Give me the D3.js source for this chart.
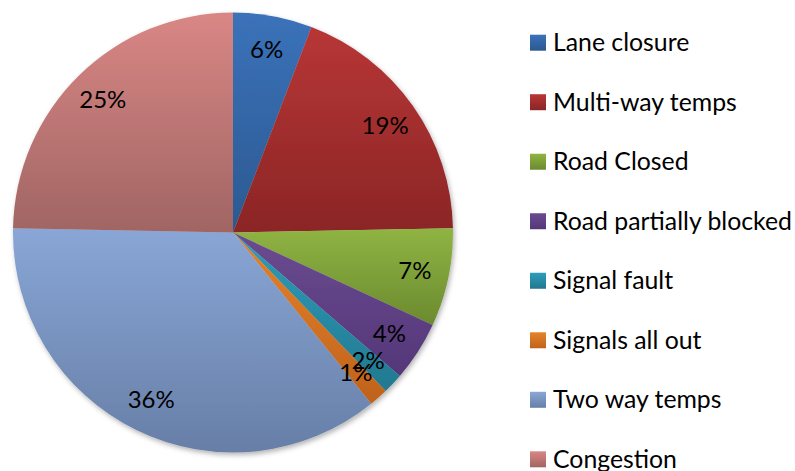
<!DOCTYPE html>
<html>
<head>
<meta charset="utf-8">
<script src="https://cdn.jsdelivr.net/npm/d3@7"></script>
<style>
html,body{margin:0;padding:0;background:#fff;}
svg{display:block;}
text{font-family:Lato,"Open Sans",sans-serif;fill:#000;}
</style>
</head>
<body>
<svg id="chart" width="795" height="471"></svg>
<script>
const categories = ["Lane closure","Multi-way temps","Road Closed","Road partially blocked","Signal fault","Signals all out","Two way temps","Congestion"];
const values = [5.8, 18.9, 7.2, 4.4, 1.5, 1.4, 36.1, 24.7];
const topColors = ["#3b72ba","#b83636","#8fb443","#6b4b90","#2f9dba","#e6832b","#89a6d6","#d98785"];
const bottomColors = ["#2b5990","#8b2525","#6b8a2f","#543779","#22788f","#bf621b","#677fa7","#a06563"];

const svg = d3.select("#chart");
const cx = 233, cy = 232.5, R = 220;

const defs = svg.append("defs");
categories.forEach((c,i)=>{
  const g = defs.append("linearGradient").attr("id","g"+i)
    .attr("x1",0).attr("y1",0).attr("x2",0).attr("y2",1);
  g.append("stop").attr("offset","0%").attr("stop-color",topColors[i]);
  g.append("stop").attr("offset","100%").attr("stop-color",bottomColors[i]);
});
const f = defs.append("filter").attr("id","sh").attr("x","-10%").attr("y","-10%").attr("width","120%").attr("height","120%");
f.append("feDropShadow").attr("dx",1.5).attr("dy",2.5).attr("stdDeviation",2.5).attr("flood-color","#000").attr("flood-opacity",0.3);

const pie = d3.pie().sort(null).value(d=>d)(values);
const arc = d3.arc().innerRadius(0).outerRadius(R);
const labelArc = d3.arc().innerRadius(R*0.845).outerRadius(R*0.845);
const total = d3.sum(values);
const fmt = v => Math.round(v/total*100) + "%";

const g = svg.append("g").attr("transform",`translate(${cx},${cy})`);
const sg = g.append("g").attr("filter","url(#sh)");
sg.selectAll("path").data(pie).enter().append("path")
  .attr("d",arc).attr("fill",(d,i)=>`url(#g${i})`);

g.selectAll("text.lbl").data(pie).enter().append("text")
  .attr("class","lbl")
  .attr("transform",d=>`translate(${labelArc.centroid(d)})`)
  .attr("text-anchor","middle").attr("dy","0.36em")
  .style("font-size","24px")
  .text(d=>fmt(d.value));

const ly = d3.scalePoint().domain(categories).range([42.7, 459.3]);
const lg = svg.append("g");
const items = lg.selectAll("g").data(categories).enter().append("g")
  .attr("transform",d=>`translate(530,${ly(d)})`);
items.append("rect").attr("x",0).attr("y",-8).attr("width",16).attr("height",16)
  .attr("fill",(d,i)=>`url(#g${i})`);
items.append("text").attr("x",23).attr("y",8.5).style("font-size","24.8px").text(d=>d);
</script>
</body>
</html>
